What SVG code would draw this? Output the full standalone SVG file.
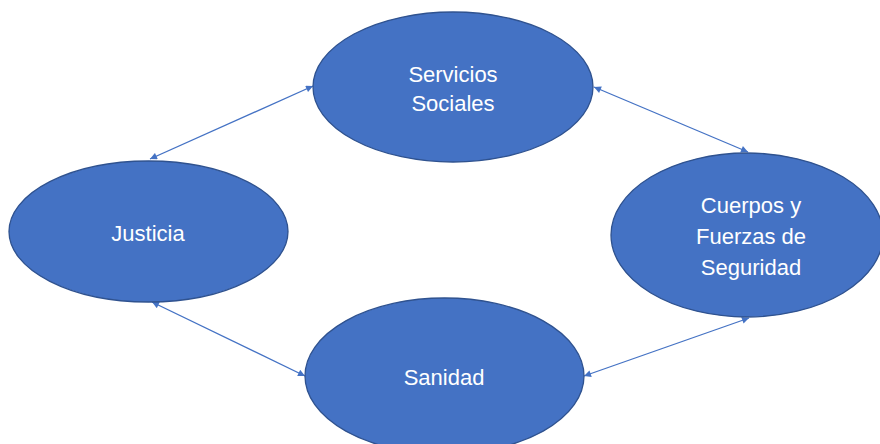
<svg xmlns="http://www.w3.org/2000/svg" width="880" height="444" viewBox="0 0 880 444">
<style>
.node{fill:#4472C4;stroke:#2F528F;stroke-width:1.3}
.lbl{fill:#fff;font-family:"Liberation Sans",Arial,sans-serif;font-size:22px;text-anchor:middle}
.conn{stroke:#4472C4;stroke-width:1.3;fill:none;marker-start:url(#ah);marker-end:url(#ah)}
</style>
<defs>
<marker id="ah" viewBox="0 0 10 10" refX="10" refY="5" markerWidth="8" markerHeight="7" markerUnits="userSpaceOnUse" orient="auto-start-reverse">
<path d="M0,0 L10,5 L0,10 z" fill="#4472C4"/>
</marker>
</defs>
<rect width="880" height="444" fill="#fff"/>
<g id="connectors">
<line class="conn" x1="150" y1="159" x2="313" y2="86"/>
<line class="conn" x1="594" y1="87" x2="748" y2="152"/>
<line class="conn" x1="152" y1="302" x2="305" y2="376"/>
<line class="conn" x1="584" y1="376" x2="749" y2="318"/>
</g>
<g id="servicios">
<ellipse class="node" cx="453" cy="87" rx="140" ry="75"/>
<text class="lbl" x="453" y="82">Servicios</text>
<text class="lbl" x="453" y="111">Sociales</text>
</g>
<g id="justicia">
<ellipse class="node" cx="148.5" cy="231.5" rx="139.5" ry="70.5"/>
<text class="lbl" x="148" y="241">Justicia</text>
</g>
<g id="cuerpos">
<ellipse class="node" cx="747" cy="235" rx="136" ry="82"/>
<text class="lbl" x="751" y="213">Cuerpos y</text>
<text class="lbl" x="751" y="244">Fuerzas de</text>
<text class="lbl" x="751" y="275">Seguridad</text>
</g>
<g id="sanidad">
<ellipse class="node" cx="444.5" cy="376" rx="139.5" ry="78"/>
<text class="lbl" x="444" y="385">Sanidad</text>
</g>
</svg>
